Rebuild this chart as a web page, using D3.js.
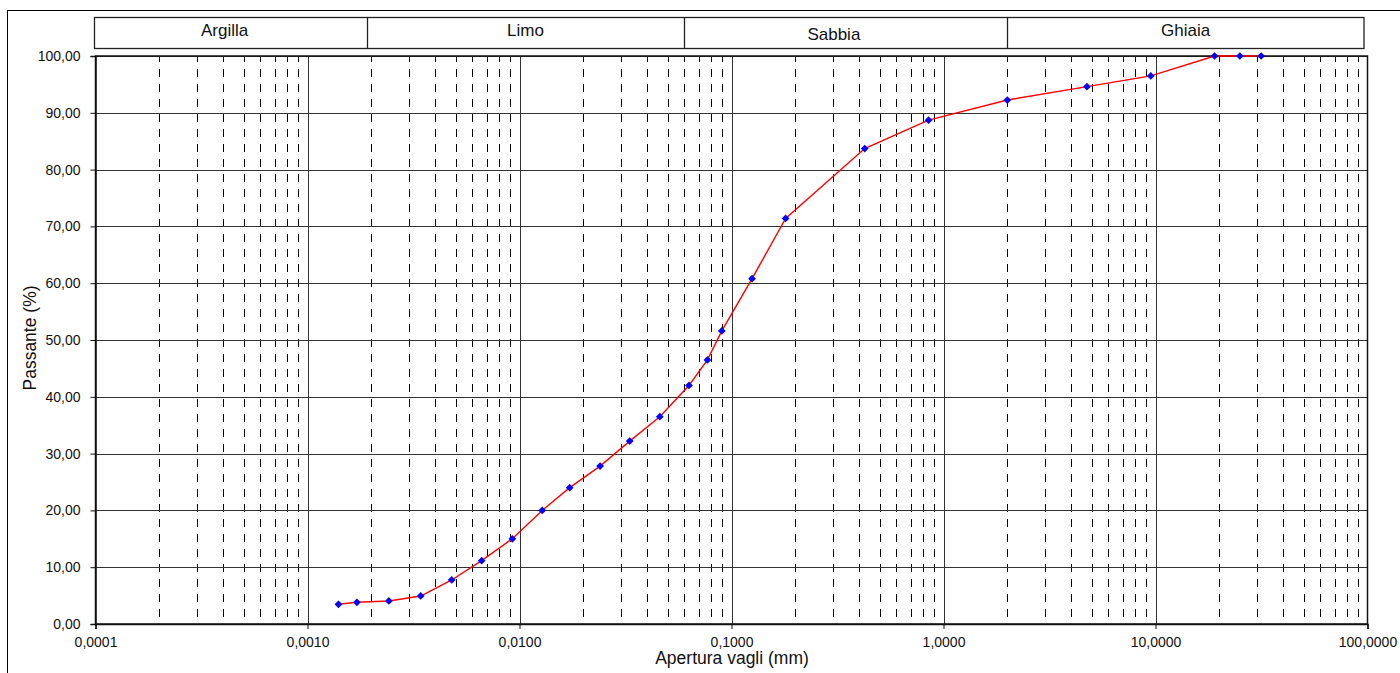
<!DOCTYPE html>
<html>
<head>
<meta charset="utf-8">
<script src="https://cdn.jsdelivr.net/npm/d3@7"></script>
<style>
html,body{margin:0;padding:0;background:#fff;}
svg{display:block;font-family:"Liberation Sans",Arial,sans-serif;}
</style>
</head>
<body>
<svg id="chart" width="1400" height="673"></svg>
<script>
// ---- data ----
const sieveSizes = [31.5, 25, 19, 9.5, 4.75, 2, 0.85, 0.425, 0.18, 0.125, 0.09, 0.077, 0.063,
  0.0459, 0.0331, 0.0240, 0.01725, 0.0128, 0.00925, 0.00663, 0.00479, 0.00342, 0.00242, 0.00171, 0.0014];
const passingPct = [100, 100, 100, 96.5, 94.6, 92.25, 88.7, 83.7, 71.4, 60.8, 51.6, 46.5, 42.0,
  36.5, 32.2, 27.8, 24.0, 20.0, 15.0, 11.15, 7.75, 4.93, 4.05, 3.82, 3.47];
const classNames = ["Argilla", "Limo", "Sabbia", "Ghiaia"];
const classBounds = [0.0001, 0.0019, 0.06, 2, 100];
const xTickValues = [0.0001, 0.001, 0.01, 0.1, 1, 10, 100];
const xTickLabels = ["0,0001", "0,0010", "0,0100", "0,1000", "1,0000", "10,0000", "100,0000"];
const yTickValues = [0, 10, 20, 30, 40, 50, 60, 70, 80, 90, 100];
const yTickLabels = ["0,00", "10,00", "20,00", "30,00", "40,00", "50,00", "60,00", "70,00", "80,00", "90,00", "100,00"];
const xTitle = "Apertura vagli (mm)";
const yTitle = "Passante (%)";

// ---- layout ----
const svg = d3.select("#chart");
const x = d3.scaleLog().domain([0.0001, 100]).range([95.5, 1367.5]);
const y = d3.scaleLinear().domain([0, 100]).range([624, 56]);

// outer frame
svg.append("rect").attr("x", 7.5).attr("y", 10.5).attr("width", 1400).attr("height", 700)
  .attr("fill", "#fff").attr("stroke", "#000").attr("stroke-width", 1);

// header band
const hTop = 17, hBot = 48, hRight = 1364;
svg.append("rect").attr("x", 94.5).attr("y", hTop + 0.5).attr("width", hRight - 94.5).attr("height", hBot - hTop)
  .attr("fill", "#fff").attr("stroke", "#222").attr("stroke-width", 1.3);
const bx = classBounds.map((b, i) => i === 0 ? 94.5 : (i === classBounds.length - 1 ? hRight : x(b)));
svg.selectAll(".divider").data(classBounds.slice(1, -1)).enter().append("line")
  .attr("x1", d => Math.round(x(d)) + 0.5).attr("x2", d => Math.round(x(d)) + 0.5)
  .attr("y1", hTop).attr("y2", hBot).attr("stroke", "#222").attr("stroke-width", 1.3);
svg.selectAll(".cls").data(classNames).enter().append("text")
  .attr("x", (d, i) => (bx[i] + bx[i + 1]) / 2 + (i === 0 ? -6 : (i === 2 ? -12 : 0)))
  .attr("y", (d, i) => i === 2 ? 40 : 36)
  .attr("text-anchor", "middle").attr("font-size", 17).attr("fill", "#111")
  .text(d => d);

// minor dashed verticals
const minors = [];
for (let e = -4; e < 2; e++) for (let m = 2; m <= 9; m++) minors.push(m * Math.pow(10, e));
svg.append("g").selectAll("line").data(minors).enter().append("line")
  .attr("x1", d => Math.round(x(d)) + 0.5).attr("x2", d => Math.round(x(d)) + 0.5)
  .attr("y1", y(0)).attr("y2", y(100))
  .attr("stroke", "#000").attr("stroke-width", 1)
  .attr("stroke-dasharray", "8,7").attr("stroke-dashoffset", 8);

// horizontal gridlines
svg.append("g").selectAll("line").data(yTickValues.slice(1)).enter().append("line")
  .attr("x1", x(0.0001)).attr("x2", x(100))
  .attr("y1", d => Math.round(y(d)) + 0.5).attr("y2", d => Math.round(y(d)) + 0.5)
  .attr("stroke", "#333").attr("stroke-width", 1);

// decade verticals
svg.append("g").selectAll("line").data(xTickValues.slice(1, -1)).enter().append("line")
  .attr("x1", d => Math.round(x(d)) + 0.5).attr("x2", d => Math.round(x(d)) + 0.5)
  .attr("y1", y(0)).attr("y2", y(100))
  .attr("stroke", "#333").attr("stroke-width", 1);

// plot border
svg.append("rect").attr("x", x(0.0001)).attr("y", y(100)).attr("width", x(100) - x(0.0001)).attr("height", y(0) - y(100))
  .attr("fill", "none").attr("stroke", "#111").attr("stroke-width", 1.5);

// axes
const xAxis = d3.axisBottom(x).tickValues(xTickValues).tickFormat((d, i) => xTickLabels[i]).tickSizeOuter(0).tickSize(5).tickPadding(8);
const gx = svg.append("g").attr("transform", `translate(0,${y(0)})`).call(xAxis);
gx.select(".domain").attr("stroke", "#111").attr("stroke-width", 1.5);
gx.selectAll(".tick line").attr("stroke", "#111");
gx.selectAll("text").attr("font-size", 14).attr("fill", "#111").attr("font-family", "Liberation Sans, Arial, sans-serif");

const yAxis = d3.axisLeft(y).tickValues(yTickValues).tickFormat((d, i) => yTickLabels[i]).tickSizeOuter(0).tickSize(5).tickPadding(10);
const gy = svg.append("g").attr("transform", `translate(${x(0.0001)},0)`).call(yAxis);
gy.select(".domain").attr("stroke", "#111").attr("stroke-width", 1.5);
gy.selectAll(".tick line").attr("stroke", "#111");
gy.selectAll("text").attr("font-size", 14).attr("fill", "#111").attr("font-family", "Liberation Sans, Arial, sans-serif");

// titles
svg.append("text").attr("x", 732).attr("y", 664).attr("text-anchor", "middle")
  .attr("font-size", 17.5).attr("fill", "#111").text(xTitle);
svg.append("text").attr("transform", "translate(36,338) rotate(-90)").attr("text-anchor", "middle")
  .attr("font-size", 17.5).attr("fill", "#111").text(yTitle);

// data
const pts = sieveSizes.map((s, i) => ({s, p: passingPct[i]}));
svg.append("path").datum(pts)
  .attr("fill", "none").attr("stroke", "#ff0000").attr("stroke-width", 1.4)
  .attr("d", d3.line().x(d => x(d.s)).y(d => y(d.p)));
svg.append("g").selectAll("path").data(pts).enter().append("path")
  .attr("transform", d => `translate(${x(d.s)},${y(d.p)}) rotate(45)`)
  .attr("d", d3.symbol(d3.symbolSquare, 30))
  .attr("fill", "#0000ff");
</script>
</body>
</html>
